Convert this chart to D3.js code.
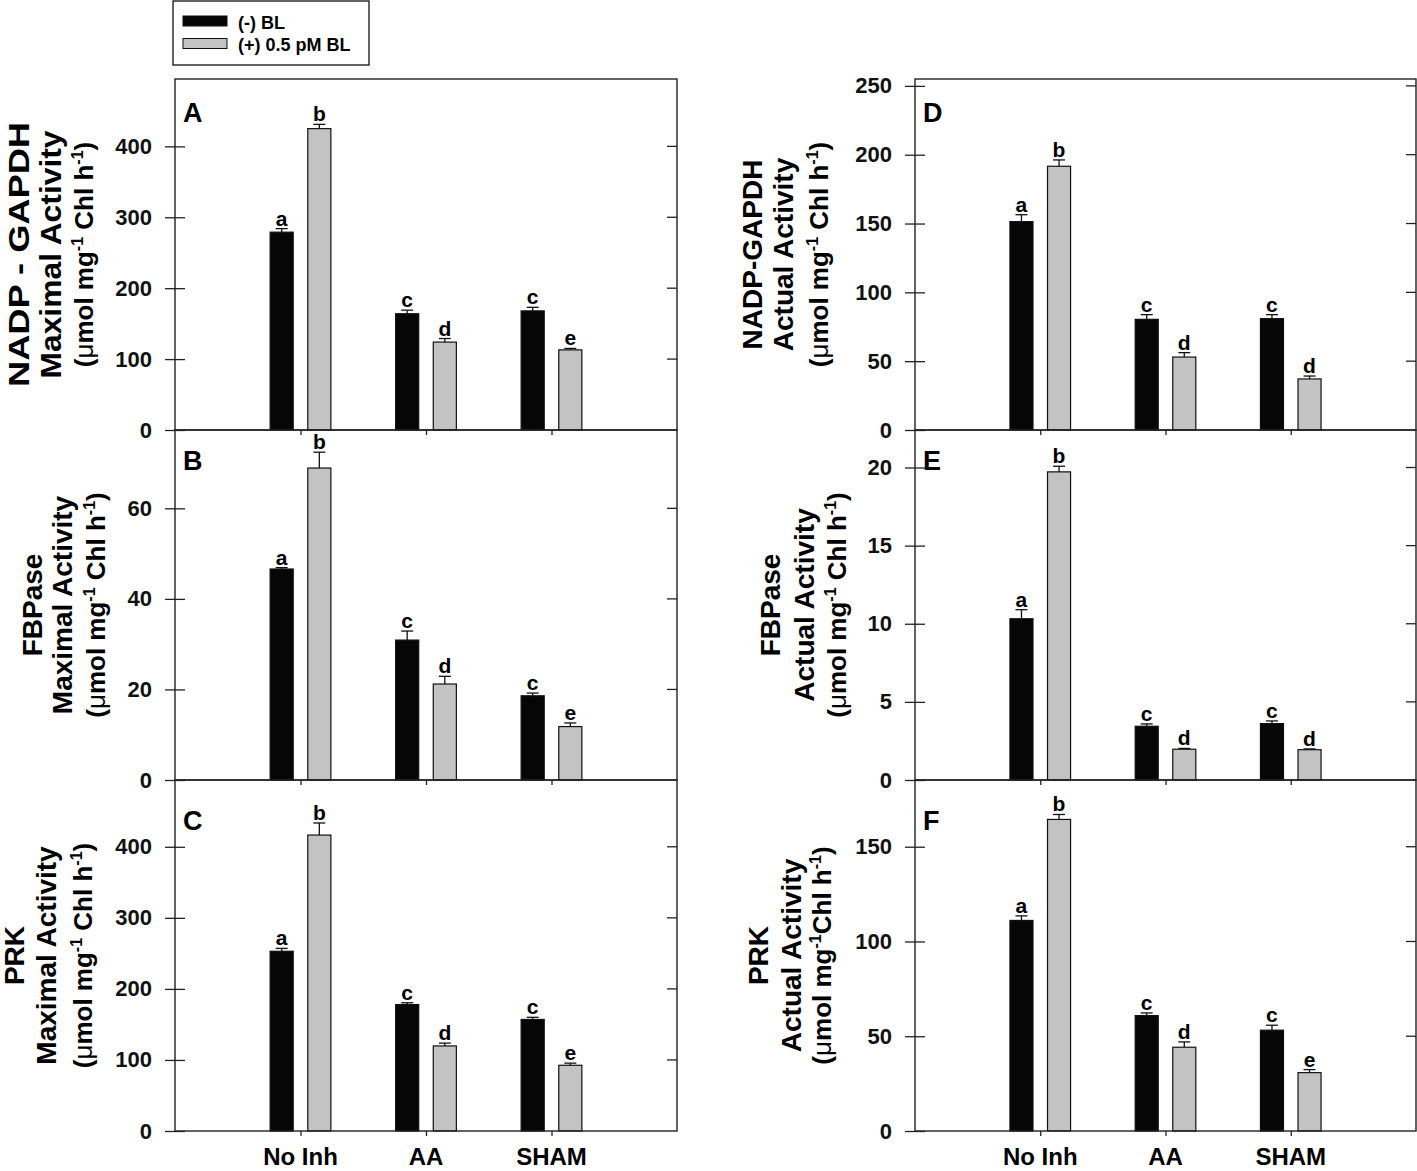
<!DOCTYPE html>
<html>
<head>
<meta charset="utf-8">
<script src="https://cdn.jsdelivr.net/npm/d3@7"></script>
<style>
  body { margin: 0; background: #fff; }
  svg { font-family: "Liberation Sans", Arial, sans-serif; font-weight: bold; }
</style>
</head>
<body>
<svg id="chart" width="1417" height="1171"></svg>
<script>
// groups along the x axis
const groups = ["No Inh", "AA", "SHAM"];

// A: NADP-GAPDH maximal
const gapdhMaxMinus = [279, 164, 168];
const gapdhMaxMinusErr = [5, 5, 5];
const gapdhMaxPlus = [425, 124, 113];
const gapdhMaxPlusErr = [6, 5, 2];
// B: FBPase maximal
const fbpMaxMinus = [46.6, 30.9, 18.6];
const fbpMaxMinusErr = [0.3, 2.0, 0.6];
const fbpMaxPlus = [68.9, 21.2, 11.8];
const fbpMaxPlusErr = [3.5, 1.7, 0.8];
// C: PRK maximal
const prkMaxMinus = [253, 178, 157];
const prkMaxMinusErr = [4, 2.5, 3];
const prkMaxPlus = [416.5, 119.7, 92.5];
const prkMaxPlusErr = [17, 4, 3];
// D: NADP-GAPDH actual
const gapdhActMinus = [151.4, 80.4, 80.9];
const gapdhActMinusErr = [5, 3.4, 2.9];
const gapdhActPlus = [191.6, 53, 37.1];
const gapdhActPlusErr = [4.6, 3.2, 2.1];
// E: FBPase actual
const fbpActMinus = [10.32, 3.44, 3.61];
const fbpActMinusErr = [0.58, 0.15, 0.17];
const fbpActPlus = [19.72, 1.97, 1.94];
const fbpActPlusErr = [0.36, 0.05, 0.05];
// F: PRK actual
const prkActMinus = [111.1, 60.9, 53.2];
const prkActMinusErr = [2.4, 1.4, 2.6];
const prkActPlus = [164.4, 44.2, 30.8];
const prkActPlusErr = [2.6, 2.8, 1.6];

// significance letters
const lettersMinus = ["a", "c", "c"];
const lettersPlusCE = ["b", "d", "e"];
const lettersPlusDD = ["b", "d", "d"];

// y ticks
const ticksA = [0, 100, 200, 300, 400];
const ticksB = [0, 20, 40, 60];
const ticksC = [0, 100, 200, 300, 400];
const ticksD = [0, 50, 100, 150, 200, 250];
const ticksE = [0, 5, 10, 15, 20];
const ticksF = [0, 50, 100, 150];

const legendLabels = ["(-) BL", "(+) 0.5 pM BL"];

const svg = d3.select("#chart");
const colMinus = "#060606";
const colPlus = "#c3c3c3";

const cols = [{ x0: 175, x1: 677 }, { x0: 915, x1: 1416 }];
const rows = [{ y0: 79, y1: 430, lab: 43 }, { y0: 430, y1: 780, lab: 40 }, { y0: 780, y1: 1131, lab: 50 }];

// titleLen: stretched length of the first two title lines (panel A is set wider)
const panels = [
  { id: "A", col: 0, row: 0, max: 495, ticks: ticksA, minus: gapdhMaxMinus, minusErr: gapdhMaxMinusErr, plus: gapdhMaxPlus, plusErr: gapdhMaxPlusErr, plusLetters: lettersPlusCE,
    title: ["NADP - GAPDH", "Maximal Activity"], titleX: [29, 61, 93], titleLen: [265, 248], space: true },
  { id: "B", col: 0, row: 1, max: 77.3, ticks: ticksB, minus: fbpMaxMinus, minusErr: fbpMaxMinusErr, plus: fbpMaxPlus, plusErr: fbpMaxPlusErr, plusLetters: lettersPlusCE,
    title: ["FBPase", "Maximal Activity"], titleX: [42, 72, 105], titleLen: null, space: true },
  { id: "C", col: 0, row: 2, max: 494, ticks: ticksC, minus: prkMaxMinus, minusErr: prkMaxMinusErr, plus: prkMaxPlus, plusErr: prkMaxPlusErr, plusLetters: lettersPlusCE,
    title: ["PRK", "Maximal Activity"], titleX: [24, 56, 92], titleLen: null, space: true },
  { id: "D", col: 1, row: 0, max: 255, ticks: ticksD, minus: gapdhActMinus, minusErr: gapdhActMinusErr, plus: gapdhActPlus, plusErr: gapdhActPlusErr, plusLetters: lettersPlusDD,
    title: ["NADP-GAPDH", "Actual Activity"], titleX: [762, 793, 828], titleLen: null, space: true },
  { id: "E", col: 1, row: 1, max: 22.4, ticks: ticksE, minus: fbpActMinus, minusErr: fbpActMinusErr, plus: fbpActPlus, plusErr: fbpActPlusErr, plusLetters: lettersPlusDD,
    title: ["FBPase", "Actual Activity"], titleX: [780, 814, 846], titleLen: null, space: true },
  { id: "F", col: 1, row: 2, max: 185.2, ticks: ticksF, minus: prkActMinus, minusErr: prkActMinusErr, plus: prkActPlus, plusErr: prkActPlusErr, plusLetters: lettersPlusCE,
    title: ["PRK", "Actual Activity"], titleX: [768, 801, 831], titleLen: null, space: false },
];

panels.forEach((p) => {
  const c = cols[p.col];
  const r = rows[p.row];
  const x = d3.scaleLinear().domain([0, 4]).range([c.x0, c.x1]);
  const y = d3.scaleLinear().domain([0, p.max]).range([r.y1, r.y0]);
  const g = svg.append("g");
  const unit = x(1) - x(0);
  const barW = unit * 0.184;
  const off = unit * 0.15;

  // bars
  const series = [
    { vals: p.minus, errs: p.minusErr, letters: lettersMinus, fill: colMinus, dx: -off },
    { vals: p.plus, errs: p.plusErr, letters: p.plusLetters, fill: colPlus, dx: off },
  ];
  series.forEach((s) => {
    s.vals.forEach((v, i) => {
      const cx = x(i + 1) + s.dx;
      const top = y(v + s.errs[i]);
      g.append("line")
        .attr("x1", cx).attr("x2", cx)
        .attr("y1", y(v)).attr("y2", top)
        .attr("stroke", "#111").attr("stroke-width", 1.3);
      g.append("line")
        .attr("x1", cx - 6).attr("x2", cx + 6)
        .attr("y1", top).attr("y2", top)
        .attr("stroke", "#111").attr("stroke-width", 1.3);
      g.append("rect")
        .attr("x", cx - barW / 2).attr("width", barW)
        .attr("y", y(v)).attr("height", y(0) - y(v))
        .attr("fill", s.fill).attr("stroke", "#111").attr("stroke-width", 1.2);
      g.append("text")
        .attr("x", cx).attr("y", top - 3)
        .attr("text-anchor", "middle")
        .attr("font-size", 21)
        .text(s.letters[i]);
    });
  });

  // frame
  g.append("rect")
    .attr("x", c.x0).attr("y", r.y0)
    .attr("width", c.x1 - c.x0).attr("height", r.y1 - r.y0)
    .attr("fill", "none").attr("stroke", "#222").attr("stroke-width", 1.4);

  // left axis, ticks crossing the line
  const ay = g.append("g")
    .attr("transform", `translate(${c.x0},0)`)
    .call(d3.axisLeft(y).tickValues(p.ticks).tickSize(10).tickPadding(13));
  ay.select(".domain").remove();
  ay.selectAll(".tick line").attr("x1", 10).attr("stroke", "#222").attr("stroke-width", 1.3);
  ay.selectAll(".tick text")
    .attr("font-size", 22).attr("font-family", "Liberation Sans, Arial, sans-serif")
    .attr("font-weight", "bold").attr("fill", "#111");

  // right inner ticks
  g.selectAll(".rtick").data(p.ticks.filter((t) => t > 0)).enter()
    .append("line")
    .attr("x1", c.x1 - 10).attr("x2", c.x1)
    .attr("y1", (d) => y(d)).attr("y2", (d) => y(d))
    .attr("stroke", "#222").attr("stroke-width", 1.3);

  // bottom axis
  const ax = g.append("g")
    .attr("transform", `translate(0,${r.y1})`)
    .call(d3.axisBottom(x).tickValues([1, 2, 3]).tickSize(5).tickFormat(""));
  ax.select(".domain").remove();
  ax.selectAll(".tick line").attr("stroke", "#222").attr("stroke-width", 1.3);

  if (p.row === 2) {
    g.selectAll(".xlab").data(groups).enter()
      .append("text")
      .attr("x", (d, i) => x(i + 1))
      .attr("y", 1165)
      .attr("text-anchor", "middle")
      .attr("font-size", 24)
      .text((d) => d);
  }

  // panel letter
  g.append("text")
    .attr("x", c.x0 + 8).attr("y", r.y0 + r.lab)
    .attr("font-size", 27)
    .text(p.id);

  // y title, three lines
  const yc = (r.y0 + r.y1) / 2;
  p.title.forEach((t, k) => {
    const tt = g.append("text")
      .attr("transform", `translate(${p.titleX[k]},${yc}) rotate(-90)`)
      .attr("text-anchor", "middle")
      .attr("font-size", p.titleLen ? 29 : 28)
      .text(t);
    if (p.titleLen) {
      tt.attr("textLength", p.titleLen[k]).attr("lengthAdjust", "spacingAndGlyphs");
    }
  });
  const unitText = g.append("text")
    .attr("transform", `translate(${p.titleX[2]},${yc}) rotate(-90)`)
    .attr("text-anchor", "middle")
    .attr("font-size", 26);
  unitText.append("tspan").text("(");
  unitText.append("tspan").attr("font-weight", "normal").text("\u03bc");
  unitText.append("tspan").text("mol mg");
  unitText.append("tspan").attr("font-size", 16).attr("dy", -10).text("-1");
  unitText.append("tspan").attr("dy", 10).text(p.space ? " Chl h" : "Chl h");
  unitText.append("tspan").attr("font-size", 16).attr("dy", -10).text("-1");
  unitText.append("tspan").attr("dy", 10).text(")");
});

// legend
const lg = svg.append("g");
lg.append("rect")
  .attr("x", 173).attr("y", 1).attr("width", 196).attr("height", 64)
  .attr("fill", "#fff").attr("stroke", "#222").attr("stroke-width", 1.4);
[colMinus, colPlus].forEach((col, i) => {
  lg.append("rect")
    .attr("x", 183).attr("y", 16 + i * 22.5).attr("width", 44).attr("height", 10)
    .attr("fill", col).attr("stroke", "#111").attr("stroke-width", 1);
  lg.append("text")
    .attr("x", 238).attr("y", 29 + i * 22)
    .attr("font-size", 18)
    .text(legendLabels[i]);
});
</script>
</body>
</html>
